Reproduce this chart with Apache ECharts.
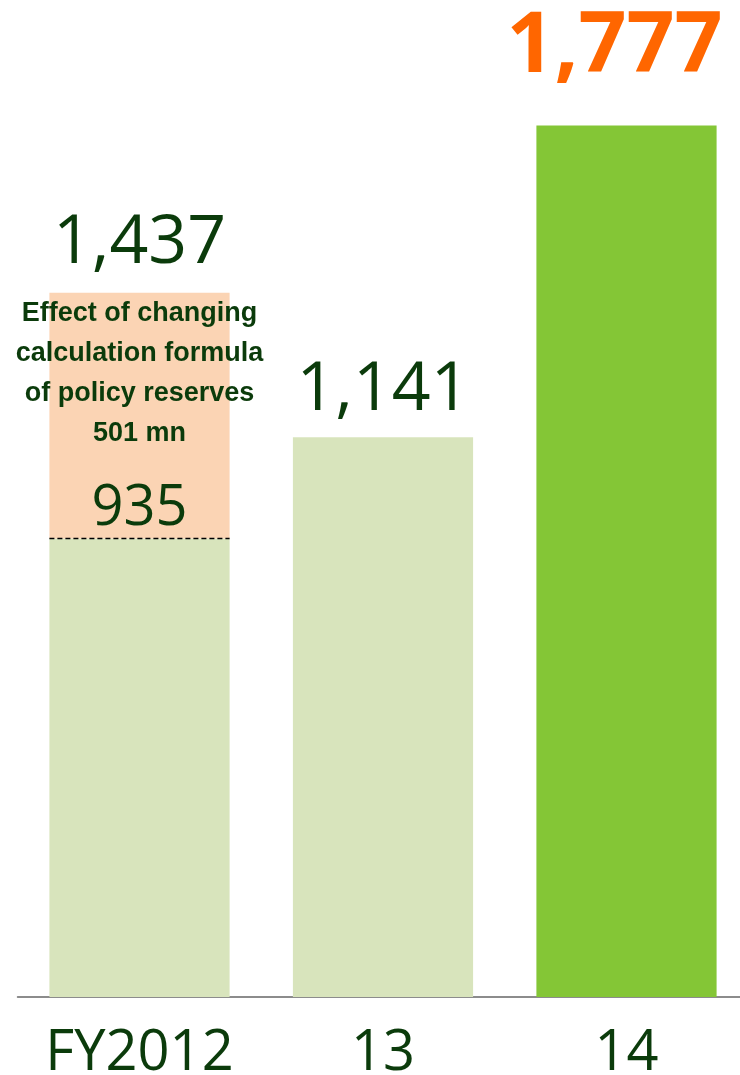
<!DOCTYPE html>
<html>
<head>
<meta charset="utf-8">
<script src="https://cdn.jsdelivr.net/npm/echarts@6/dist/echarts.min.js"></script>
<style>
  html, body { margin: 0; padding: 0; background: #ffffff; overflow: hidden; }
  #chart { width: 740px; height: 1075px; }
</style>
</head>
<body>
<div id="chart"></div>
<script>
// ---- data ----
const categories = ['FY2012', '13', '14'];
const baseValues = [935, 1141, 1777];          // base bar values
const policyEffect = [501, null, null];         // effect of changing calculation formula
const totals = [1437, 1141, 1777];              // labelled totals
const annotationLines = ['Effect of changing', 'calculation formula', 'of policy reserves', '501 mn'];

// ---- styles ----
const DARK = '#0b3b0b';
const LIGHT_GREEN = '#d8e4bc';
const BRIGHT_GREEN = '#84c636';
const PEACH = '#fbd4b4';
const ORANGE = '#ff6600';
const NUM_FONT = '"Open Sans", "Noto Sans", sans-serif';
const BOLD_FONT = '"Liberation Sans", Arial, sans-serif';
const BAR_W = 0.74;

const fmt = v => v.toLocaleString('en-US');

const baseData = baseValues.map((v, i) => {
  const isLast = i === baseValues.length - 1;
  const hasEffect = policyEffect[i] != null;
  return {
    value: v,
    itemStyle: { color: isLast ? BRIGHT_GREEN : LIGHT_GREEN },
    label: {
      show: true,
      position: 'top',
      distance: hasEffect ? 1 : (isLast ? 35 : 13),
      offset: isLast ? [-12, 0] : [0, 0],
      formatter: () => hasEffect ? fmt(v) : fmt(totals[i]),
      fontFamily: NUM_FONT,
      fontSize: isLast ? 84 : (hasEffect ? 56 : 68),
      lineHeight: isLast ? 84 : (hasEffect ? 56 : 68),
      fontWeight: isLast ? 'bold' : 'normal',
      color: isLast ? ORANGE : DARK
    }
  };
});

const effectData = policyEffect.map(v => v == null ? '-' : {
  value: v,
  label: {
    show: true,
    position: 'insideTop',
    distance: 1,
    formatter: annotationLines.join('\n'),
    fontFamily: BOLD_FONT,
    fontSize: 27,
    lineHeight: 40,
    fontWeight: 'bold',
    color: DARK
  }
});

const totalLabelData = policyEffect.map((v, i) => v == null ? '-' : {
  value: 0,
  label: {
    show: true,
    position: 'top',
    distance: 15,
    formatter: fmt(totals[i]),
    fontFamily: NUM_FONT,
    fontSize: 68,
    lineHeight: 68,
    color: DARK
  }
});

const dashData = baseValues.map((v, i) => policyEffect[i] == null ? null : [categories[i], v]).filter(Boolean);

const chart = echarts.init(document.getElementById('chart'), null, { renderer: 'canvas' });
chart.setOption({
  animation: false,
  backgroundColor: '#ffffff',
  grid: { left: 17.75, top: 16, right: -8.25, bottom: 78, containLabel: false, outerBoundsMode: 'none' },
  xAxis: {
    type: 'category',
    data: categories,
    axisLine: { show: true, lineStyle: { color: '#8c8c8c', width: 2 } },
    axisTick: { show: false },
    axisLabel: {
      interval: 0,
      hideOverlap: false,
      margin: 29,
      fontFamily: NUM_FONT,
      fontSize: 56,
      lineHeight: 56,
      color: DARK
    }
  },
  yAxis: {
    type: 'value',
    min: 0,
    max: 2000,
    show: false,
    splitLine: { show: false }
  },
  series: [
    {
      name: 'base',
      type: 'bar',
      stack: 'a',
      barWidth: (BAR_W * 100) + '%',
      data: baseData
    },
    {
      name: 'effect',
      type: 'bar',
      stack: 'a',
      barWidth: (BAR_W * 100) + '%',
      itemStyle: { color: PEACH },
      data: effectData
    },
    {
      name: 'total',
      type: 'bar',
      stack: 'a',
      barWidth: (BAR_W * 100) + '%',
      itemStyle: { color: 'transparent' },
      data: totalLabelData
    },
    {
      name: 'dash',
      type: 'custom',
      z: 10,
      data: dashData,
      renderItem: function (params, api) {
        const p = api.coord([api.value(0), api.value(1)]);
        const w = api.size([1, 0])[0] * BAR_W;
        return {
          type: 'line',
          shape: { x1: p[0] - w / 2, y1: p[1], x2: p[0] + w / 2, y2: p[1] },
          style: { stroke: '#000000', lineWidth: 1.5, lineDash: [5, 3] }
        };
      }
    }
  ]
});
</script>
</body>
</html>
